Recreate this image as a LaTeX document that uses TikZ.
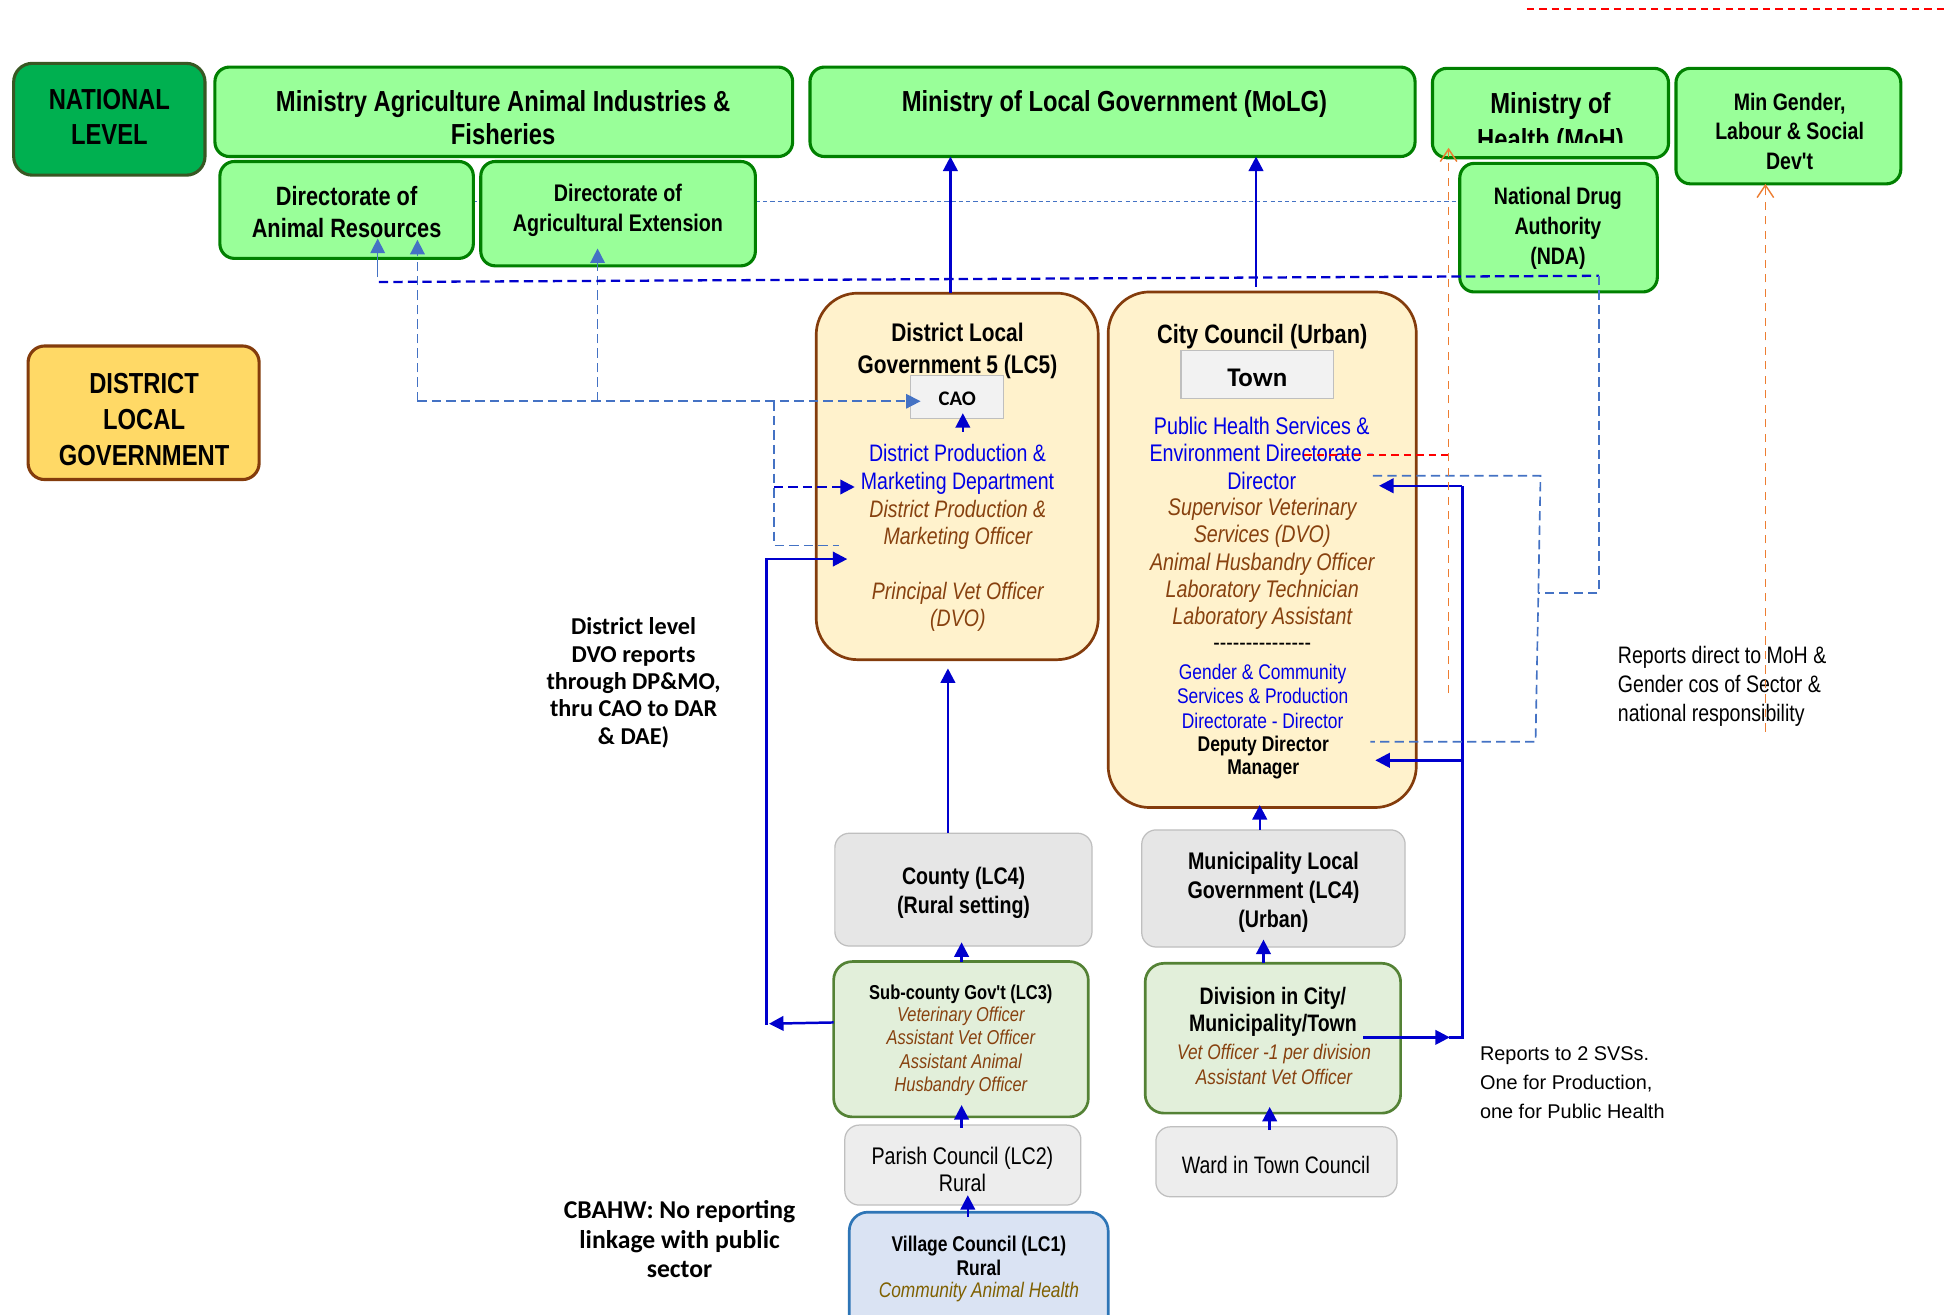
\documentclass[tikz,border=0pt]{standalone}
\usepackage{fontspec}
\setmainfont{Liberation Sans}
\newfontfamily\nar{Liberation Sans}[FakeStretch=0.82]
\newfontfamily\carl{Carlito}
\usetikzlibrary{arrows.meta,fit,backgrounds,calc}
\definecolor{lgreen}{RGB}{153,255,153}
\definecolor{dgreen}{RGB}{0,128,0}
\definecolor{natf}{RGB}{0,176,80}
\definecolor{natb}{RGB}{56,87,35}
\definecolor{dlgf}{RGB}{255,217,102}
\definecolor{brownb}{RGB}{132,60,12}
\definecolor{lcf}{RGB}{255,242,204}
\definecolor{grayf}{RGB}{230,230,230}
\definecolor{grayf2}{RGB}{237,237,237}
\definecolor{grayb}{RGB}{191,191,191}
\definecolor{caof}{RGB}{242,242,242}
\definecolor{subf}{RGB}{226,239,218}
\definecolor{subb}{RGB}{84,130,53}
\definecolor{vilf}{RGB}{218,227,243}
\definecolor{vilb}{RGB}{46,117,182}
\definecolor{dblue}{RGB}{0,0,205}
\definecolor{tblue}{RGB}{0,0,230}
\definecolor{tbrown}{RGB}{135,65,15}
\definecolor{olive}{RGB}{127,96,0}
\definecolor{lblue}{RGB}{68,114,196}
\definecolor{orng}{RGB}{237,125,49}
\newcommand\fsz[2]{\fontsize{#1}{#2}\selectfont}
\begin{document}
\begin{tikzpicture}[x=0.6pt,y=-0.6pt,
  bx/.style={inner sep=0pt,outer sep=0pt},
  gbox/.style={bx,draw=dgreen,fill=lgreen,line width=1.5pt,rounded corners=7pt},
  natbox/.style={bx,draw=natb,fill=natf,line width=1.5pt,rounded corners=9pt},
  dlgbox/.style={bx,draw=brownb,fill=dlgf,line width=1.5pt,rounded corners=8pt},
  lgbox/.style={bx,draw=brownb,fill=lcf,line width=1.3pt,rounded corners=20pt},
  graybox/.style={bx,draw=grayb,fill=grayf,line width=0.6pt,rounded corners=7pt},
  gray2box/.style={bx,draw=grayb,fill=grayf2,line width=0.6pt,rounded corners=7pt},
  cbox/.style={bx,draw=grayb,fill=caof,line width=0.6pt},
  subbox/.style={bx,draw=subb,fill=subf,line width=1.3pt,rounded corners=9pt},
  vilbox/.style={bx,draw=vilb,fill=vilf,line width=1.3pt,rounded corners=9pt},
  txt/.style={inner sep=0pt,align=center,yshift=-0.8pt},
  sa/.style={draw=dblue,line width=1.2pt,-{Triangle[length=7pt,width=7pt]}},
  sl/.style={draw=dblue,line width=1.2pt},
  lbd/.style={draw=lblue,line width=0.8pt,dash pattern=on 4.5pt off 2.5pt},
  lbs/.style={draw=lblue,line width=0.7pt},
  dbd/.style={draw=dblue,line width=1.1pt,dash pattern=on 4.5pt off 2.5pt},
  lbdot/.style={draw=lblue,line width=0.6pt,dash pattern=on 2pt off 1.5pt},
  od/.style={draw=orng,line width=0.7pt,dash pattern=on 4pt off 3pt,-{Straight Barb[length=6pt,width=8pt]}},
  rd/.style={draw=red,line width=0.9pt,dash pattern=on 3.5pt off 2.5pt},
  tri/.style={-{Triangle[length=7pt,width=7pt]}}
]
\useasboundingbox (0,0) rectangle (1568,1058);

% ---------- boxes ----------
\node[natbox, fit={(11,51)(165,141)}] (nat) {};
\node[gbox, fit={(173,54)(638,126)}] (maaif) {};
\node[gbox, fit={(652,54)(1139,126)}] (molg) {};
\node[gbox, fit={(1153,55)(1343,127)}] (moh) {};
\node[gbox, fit={(1349,55)(1530,148)}] (mgd) {};
\node[gbox, fit={(1175,131.5)(1334,235)}] (nda) {};
\node[gbox, fit={(177,130)(381,208)}] (dar) {};
\node[gbox, fit={(387,130)(608,214)}] (dae) {};
\node[dlgbox, fit={(22.6,278.5)(208.6,386)}] (dlg) {};
\node[lgbox, fit={(657,236)(884,531)}] (lc5) {};
\node[cbox, fit={(733,302.5)(808,336.6)}] (cao) {};
\node[lgbox, fit={(892,235)(1140,650)}] (city) {};
\node[cbox, fit={(950.6,282.3)(1073.5,320.5)}] (town) {};
\node[graybox, fit={(672,670.7)(879,761.5)}] (county) {};
\node[graybox, fit={(919,668)(1131,762.3)}] (muni) {};
\node[subbox, fit={(671,774)(876,899)}] (subc) {};
\node[subbox, fit={(921.8,775.4)(1127.4,896)}] (div) {};
\node[gray2box, fit={(680,905.6)(870,970)}] (parish) {};
\node[gray2box, fit={(930.4,907)(1124.5,963.3)}] (ward) {};
\node[vilbox, fit={(683.6,975.7)(892,1085)}] (vil) {};

% ---------- texts ----------
\node[txt,font=\nar\bfseries\fsz{14}{16.8}] (nat-t) at (88,93) {NATIONAL\\LEVEL};
\node[txt,font=\nar\bfseries\fsz{14}{16.2}] (maaif-t) at (405,93.5) {Ministry Agriculture Animal Industries \&\\Fisheries};
\node[txt,font=\nar\bfseries\fsz{14}{16.8}] (molg-t) at (897,82) {Ministry of Local Government (MoLG)};
\begin{scope}
\clip (1150,50) rectangle (1346,114.5);
\node[txt,font=\nar\bfseries\fsz{14}{17.6}] (moh-t) at (1248,98.5) {Ministry of\\Health (MoH)};
\end{scope}
\node[txt,font=\nar\bfseries\fsz{11.5}{14.25}] (mgd-t) at (1440.5,104.3) {Min Gender,\\Labour \& Social\\Dev't};
\node[txt,font=\nar\bfseries\fsz{11.5}{14.4}] (nda-t) at (1254,182.5) {National Drug\\Authority\\(NDA)};
\node[txt,font=\nar\bfseries\fsz{12.8}{15.6}] (dar-t) at (279,169.5) {Directorate of\\Animal Resources};
\node[txt,font=\nar\bfseries\fsz{11.6}{14.6}] (dae-t) at (497.4,167.8) {Directorate of\\Agricultural Extension};
\node[txt,font=\nar\bfseries\fsz{14}{17.4}] (dlg-t) at (116,336) {DISTRICT\\LOCAL\\GOVERNMENT};

\node[txt,font=\nar\bfseries\fsz{12.3}{15.6}] (lc5-t) at (770.7,281) {District Local\\Government 5 (LC5)};
\node[txt,font=\carl\bfseries\fsz{10}{12}] (cao-t) at (770.5,320) {CAO};
\node[txt,font=\nar\fsz{11.5}{13.3},text=tblue] (lc5-b) at (770.7,376.6) {District Production \&\\Marketing Department};
\node[txt,font=\nar\itshape\fsz{11.5}{13.3},text=tbrown] (lc5-i1) at (771,421.2) {District Production \&\\Marketing Officer};
\node[txt,font=\nar\itshape\fsz{11.5}{13.3},text=tbrown] (lc5-i2) at (771,487.2) {Principal Vet Officer\\(DVO)};

\node[txt,font=\nar\bfseries\fsz{12.8}{15}] (city-t) at (1016,269.7) {City Council (Urban)};
\node[txt,font=\carl\bfseries\fsz{13}{15}] (town-t) at (1012,303) {Town};
\node[txt,font=\nar\fsz{11.6}{13.3},text=tblue] (city-b1) at (1015.6,363.5) {Public Health Services \&\\Environment Directorate -\\Director};
\node[txt,font=\nar\itshape\fsz{11.6}{13.15},text=tbrown] (city-i) at (1016,452.5) {Supervisor Veterinary\\Services (DVO)\\Animal Husbandry Officer\\Laboratory Technician\\Laboratory Assistant};
\node[txt,font=\nar\fsz{11.5}{13}] (city-d) at (1016,519.2) {---------------};
\node[txt,font=\nar\fsz{10.25}{11.85},text=tblue] (city-b2) at (1016.3,559) {Gender \& Community\\Services \& Production\\Directorate - Director};
\node[txt,font=\nar\bfseries\fsz{10.3}{11.4}] (city-k) at (1016.8,608.5) {Deputy Director\\Manager};

\node[txt,font=\nar\bfseries\fsz{11.55}{14}] (county-t) at (775.6,717.6) {County (LC4)\\(Rural setting)};
\node[txt,font=\nar\bfseries\fsz{11.6}{14.1}] (muni-t) at (1025,717) {Municipality Local\\Government (LC4)\\(Urban)};
\node[txt,font=\nar\bfseries\fsz{9.7}{11.2}] (subc-t1) at (773.4,799) {Sub-county Gov't (LC3)};
\node[txt,font=\nar\itshape\fsz{9.7}{11.2},text=tbrown] (subc-t2) at (773.4,844.9) {Veterinary Officer\\Assistant Vet Officer\\Assistant Animal\\Husbandry Officer};
\node[txt,font=\nar\bfseries\fsz{11.5}{13.2}] (div-t1) at (1024.6,813.3) {Division in City/\\Municipality/Town};
\node[txt,font=\nar\itshape\fsz{10.2}{12},text=tbrown] (div-t2) at (1025.5,855.3) {Vet Officer -1 per division\\Assistant Vet Officer};
\node[txt,font=\nar\fsz{11.6}{13.3}] (parish-t) at (774.7,940.1) {Parish Council (LC2)\\Rural};
\node[txt,font=\nar\fsz{11.5}{13.3}] (ward-t) at (1027,936.3) {Ward in Town Council};
\node[txt,font=\nar\bfseries\fsz{10.3}{11.6}] (vil-t1) at (787.9,1009.2) {Village Council (LC1)\\Rural};
\node[txt,font=\nar\itshape\fsz{10.2}{12},text=olive] (vil-t2) at (787.9,1039) {Community Animal Health};

\node[txt,font=\carl\bfseries\fsz{11.7}{13.2}] (dl-note) at (510,548.4) {District level\\DVO reports\\through DP\&MO,\\thru CAO to DAR\\\& DAE)};
\node[txt,font=\carl\bfseries\fsz{12.4}{14.25}] (cb-note) at (547,996.3) {CBAHW: No reporting\\linkage with public\\sector};
\node[txt,align=left,anchor=west,font=\nar\fsz{11.5}{14}] (rd-note) at (1302,551.4) {Reports direct to MoH \&\\Gender cos of Sector \&\\national responsibility};
\node[txt,align=left,anchor=west,font=\fsz{9.6}{13.9}] (svs-note) at (1191,870) {Reports to 2 SVSs.\\One for Production,\\one for Public Health};

% ---------- background ----------
\begin{scope}[on background layer]
\fill[white] (0,0) rectangle (1568,1058);
\draw[lbdot] (dar.east |- 0,162) -- (nda.west |- 0,162);
\end{scope}

% ---------- coordinates ----------
\coordinate (rb1) at (1177,835);
\coordinate (rb2) at (1177,391);
\coordinate (rb3) at (1177,612);
\coordinate (lb1) at (617,824);
\coordinate (lb2) at (617,450);
\coordinate (q1) at (336,323);
\coordinate (q2) at (481,323);
\coordinate (q3) at (623,323);
\coordinate (q4) at (623,392);
\coordinate (q5) at (623,439);
\coordinate (n1) at (305,227);
\coordinate (n2) at (1287,222);
\coordinate (n3) at (1287,477.5);
\coordinate (n4) at (1238,477.5);
\coordinate (k1) at (1240,383);
\coordinate (k2) at (1236,597);
\coordinate (o1) at (1166,558);
\coordinate (o2) at (1421,589);
\coordinate (r1) at (1229,7);
\coordinate (r2) at (1570,7);
\coordinate (r3) at (1050,366);
\coordinate (r4) at (1166,366);

% ---------- solid blue arrows ----------
\draw[sa] (lc5.north -| 765,0) -- (molg.south -| 765,0);
\draw[sa] ($(city.north -| 1011,0)+(0,-4)$) -- (molg.south -| 1011,0);
\draw[sa] ($(cao.south)+(4.5,11)$) -- ($(cao.south)+(4.5,-4)$);
\draw[sa] (county.north -| 763,0) -- ($(lc5.south -| 763,0)+(0,7)$);
\draw[sa] (subc.north -| 774,0) -- ($(county.south -| 774,0)+(0,-3)$);
\draw[sa] ($(parish.north -| 774,0)+(0,2)$) -- ($(subc.south -| 774,0)+(0,-9.5)$);
\draw[sa] ($(vil.north -| 779,0)+(0,4)$) -- ($(parish.south -| 779,0)+(0,-8)$);
\draw[sa] (muni.north -| 1014,0) -- ($(city.south -| 1014,0)+(0,-2)$);
\draw[sa] (div.north -| 1017,0) -- ($(muni.south -| 1017,0)+(0,-6)$);
\draw[sa] ($(ward.north -| 1022,0)+(0,2.6)$) -- ($(div.south -| 1022,0)+(0,-5)$);

% right bus
\draw[sa] ($(div.east)+(-30,-0.7)$) -- ($(rb1)+(-10,0)$);
\draw[sl] ($(rb1)+(-11,0)$) -- (rb1) -- (rb2);
\draw[sa] (rb2) -- ($(city.east |- rb2)+(-30,0)$);
\draw[sa] (rb3) -- ($(city.east |- rb3)+(-33,0)$);

% left bus
\draw[sa] ($(subc.west)+(0,-13.5)$) -- ($(lb1)+(2,0)$);
\draw[sa] ($(lb1)+(0,1)$) -- (lb2) -- ($(lc5.west |- lb2)+(25,0)$);

% ---------- dashed blue ----------
\draw[lbd,tri] (q1) -- ($(cao.west |- q1)+(8,0)$);
\draw[lbd,tri] (q1) -- ($(dar.south -| q1)+(0,-15)$);
\draw[lbd,tri] (q2) -- ($(dae.south -| q2)+(0,-14)$);
\draw[lbd] (q3) -- (q5) -- ($(lc5.west |- q5)+(18,0)$);
\draw[dbd,tri] (q4) -- ($(lc5.west |- q4)+(31,0)$);

\draw[dbd] (n1) -- (n2);
\draw[lbs,tri] ($(n1)+(-1,-4)$) -- ($(dar.south -| 304,0)+(0,-16)$);
\draw[lbd] (n2) -- (n3) -- (n4);
\draw[lbd] ($(city.east |- k1)+(-35,0)$) -- (k1) -- (k2) -- ($(city.east |- k2)+(-37,0)$);

% ---------- orange ----------
\draw[od] (o1) -- ($(moh.south -| o1)+(0,-8)$);
\draw[od] (o2) -- (mgd.south -| o2);

% ---------- red ----------
\draw[rd] (r1) -- (r2);
\draw[rd] (r3) -- (r4);
\end{tikzpicture}
\end{document}
